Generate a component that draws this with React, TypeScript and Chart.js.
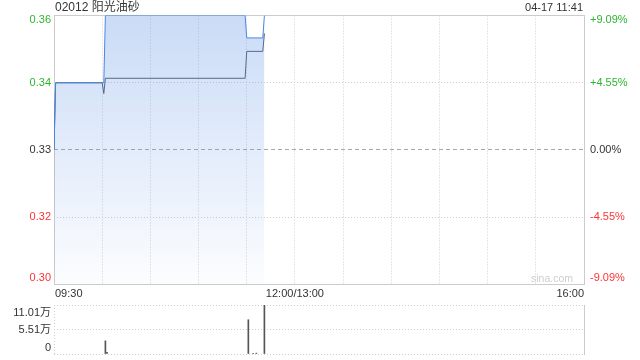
import { useEffect, useRef } from "react";
import { Chart, registerables } from "chart.js";

Chart.register(...registerables);

// ---- data ----
const stockTitle = "02012 阳光油砂";
const stampText = "04-17 11:41";
const prevClose = 0.33;

const priceTimes = ["09:30", "09:31", "10:01", "10:02", "11:29", "11:30", "11:40", "11:41"];
const priceValues = [0.33, 0.345, 0.345, 0.36, 0.36, 0.355, 0.355, 0.36];

const avgTimes = ["09:30", "09:31", "10:00", "10:01", "10:02", "11:29", "11:30", "11:40", "11:41"];
const avgValues = [0.33, 0.345, 0.345, 0.3426, 0.346, 0.346, 0.352, 0.352, 0.356];

const volTimes = ["10:02", "10:03", "11:31", "11:34", "11:36", "11:41"];
const volValues = [29500, 4000, 77000, 1000, 2000, 110100];

const priceTicks = [0.30, 0.315, 0.33, 0.345, 0.36];
const priceTickLabels = ["0.30", "0.32", "0.33", "0.34", "0.36"];
const pctTickLabels = ["-9.09%", "-4.55%", "0.00%", "+4.55%", "+9.09%"];

const volTicks = [0, 55050, 110100];
const volTickLabels = ["0", "5.51万", "11.01万"];

const xTickTimes = ["09:30", "12:00", "16:00"];
const xTickLabels = ["09:30", "12:00/13:00", "16:00"];

// trading day: 09:30-12:00 and 13:00-16:00 on one continuous minute axis
const SESSION_MINUTES = 330;
const toMinute = (t: string) => {
  const [h, m] = t.split(":").map(Number);
  const v = h * 60 + m;
  return v <= 720 ? v - 570 : v - 780 + 150;
};

const FONT = '"Liberation Sans", Arial, "Noto Sans CJK SC", sans-serif';
const GRID = "#cfcfcf";
const FRAME = "#cccccc";
const UP = "#2db52d";
const DOWN = "#ff3333";
const TEXT = "#333333";

const priceColor = (v: number) => (v > prevClose + 1e-9 ? UP : v < prevClose - 1e-9 ? DOWN : TEXT);
const crisp = (v: number) => Math.floor(v) + 0.5;

const mainDecor = {
  id: "mainDecor",
  beforeDatasetsDraw(chart: any) {
    const { ctx, chartArea: a, scales } = chart;
    const ys = scales.y;
    ctx.save();
    // previous close reference line
    const pc = crisp(ys.getPixelForValue(prevClose));
    ctx.strokeStyle = "#a8a8a8";
    ctx.lineWidth = 1;
    ctx.setLineDash([4, 3]);
    ctx.beginPath();
    ctx.moveTo(a.left, pc);
    ctx.lineTo(a.right, pc);
    ctx.stroke();
    ctx.setLineDash([]);
    // frame
    ctx.strokeStyle = FRAME;
    const l = crisp(a.left);
    const t = crisp(a.top);
    ctx.strokeRect(l, t, crisp(a.right) - l, crisp(a.bottom) - t);
    ctx.restore();
  },
  afterDraw(chart: any) {
    const { ctx, chartArea: a, scales } = chart;
    const ys = scales.y;
    const xs = scales.x;
    ctx.save();
    // price / percent labels
    ctx.font = `11px ${FONT}`;
    ctx.textBaseline = "middle";
    priceTicks.forEach((v, i) => {
      const py = ys.getPixelForValue(v);
      const ly = Math.min(Math.max(py, a.top + 4.5), a.bottom - 6.5);
      ctx.fillStyle = priceColor(v);
      ctx.textAlign = "right";
      ctx.fillText(priceTickLabels[i], a.left - 3, ly);
      ctx.textAlign = "left";
      ctx.fillText(pctTickLabels[i], a.right + 6, ly);
    });

    // time labels
    ctx.fillStyle = TEXT;
    xTickTimes.forEach((tm, i) => {
      const px = xs.getPixelForValue(toMinute(tm));
      ctx.textAlign = i === 0 ? "left" : i === xTickTimes.length - 1 ? "right" : "center";
      ctx.fillText(xTickLabels[i], px + (i === 0 ? 1 : 0), a.bottom + 9);
    });

    // header
    ctx.font = `12px ${FONT}`;
    ctx.textAlign = "left";
    ctx.fillText(stockTitle, a.left + 1, 8);
    ctx.font = `11px ${FONT}`;
    ctx.textAlign = "right";
    ctx.fillText(stampText, a.right - 1, 8);

    // watermark
    ctx.fillStyle = "#cdcdcd";
    ctx.font = `10.5px ${FONT}`;
    ctx.fillText("sina.com", a.right - 11, a.bottom - 5);
    ctx.restore();
  },
};

const volDecor = {
  id: "volDecor",
  afterDraw(chart: any) {
    const { ctx, chartArea: a, scales } = chart;
    const ys = scales.y;
    ctx.save();
    ctx.strokeStyle = FRAME;
    ctx.lineWidth = 1;
    ctx.beginPath();
    ctx.moveTo(a.right + 0.5, a.top);
    ctx.lineTo(a.right + 0.5, a.bottom + 1);
    ctx.stroke();
    ctx.font = `11px ${FONT}`;
    ctx.textBaseline = "middle";
    ctx.textAlign = "right";
    ctx.fillStyle = TEXT;
    volTicks.forEach((v, i) => {
      const py = ys.getPixelForValue(v);
      const ly = Math.min(Math.max(py, a.top + 7.7), a.bottom - 6.3);
      ctx.fillText(volTickLabels[i], a.left - 3, ly);
    });
    ctx.restore();
  },
};

const edgeTransparent = (edges: number[]) => (c: any) =>
  c.tick && edges.some((e) => Math.abs(c.tick.value - e) < 1e-9) ? "rgba(0,0,0,0)" : GRID;

export default function App() {
  const mainRef = useRef<HTMLCanvasElement>(null);
  const volRef = useRef<HTMLCanvasElement>(null);

  useEffect(() => {
    if (!mainRef.current || !volRef.current) return;

    const main = new Chart(mainRef.current, {
      type: "line",
      data: {
        datasets: [
          {
            label: "价格",
            data: priceTimes.map((t, i) => ({ x: toMinute(t), y: priceValues[i] })),
            borderColor: "#4a86e4",
            borderWidth: 1,
            pointRadius: 0,
            tension: 0,
            fill: "start",
            order: 0,
            backgroundColor: (c: any) => {
              const area = c.chart.chartArea;
              if (!area) return "rgba(100,150,230,0.2)";
              const g = c.chart.ctx.createLinearGradient(0, area.top, 0, area.bottom);
              g.addColorStop(0, "rgba(100,150,230,0.34)");
              g.addColorStop(1, "rgba(100,150,230,0.02)");
              return g;
            },
          },
          {
            label: "均价",
            data: avgTimes.map((t, i) => ({ x: toMinute(t), y: avgValues[i] })),
            borderColor: "#4f5866",
            borderWidth: 1,
            pointRadius: 0,
            tension: 0,
            fill: false,
            order: 1,
          },
        ],
      },
      options: {
        responsive: false,
        animation: false,
        layout: { padding: { left: 54, right: 56, top: 15.5, bottom: 15.5 } },
        plugins: { legend: { display: false }, tooltip: { enabled: false } },
        events: [],
        scales: {
          x: {
            type: "linear",
            min: 0,
            max: SESSION_MINUTES,
            ticks: { display: false, stepSize: 30 },
            afterFit: (s: any) => {
              s.height = 0;
            },
            grid: { color: edgeTransparent([0, SESSION_MINUTES]), drawTicks: false, lineWidth: 1 },
            border: { display: false, dash: [1, 2] },
          },
          y: {
            type: "linear",
            min: priceTicks[0],
            max: priceTicks[priceTicks.length - 1],
            afterBuildTicks: (s: any) => {
              s.ticks = priceTicks.map((v) => ({ value: v }));
            },
            ticks: { display: false },
            afterFit: (s: any) => {
              s.width = 0;
            },
            grid: {
              color: edgeTransparent([priceTicks[0], prevClose, priceTicks[priceTicks.length - 1]]),
              drawTicks: false,
              lineWidth: 1,
            },
            border: { display: false, dash: [1, 2] },
          },
        },
      },
      plugins: [mainDecor],
    });

    const vol = new Chart(volRef.current, {
      type: "bar",
      data: {
        datasets: [
          {
            label: "成交量",
            data: volTimes.map((t, i) => ({ x: toMinute(t), y: volValues[i] })),
            backgroundColor: "#555555",
            barThickness: 1,
          },
        ],
      },
      options: {
        responsive: false,
        animation: false,
        layout: { padding: { left: 54, right: 56, top: 5, bottom: 6 } },
        plugins: { legend: { display: false }, tooltip: { enabled: false } },
        events: [],
        scales: {
          x: {
            type: "linear",
            min: 0,
            max: SESSION_MINUTES,
            offset: false,
            afterBuildTicks: (s: any) => {
              s.ticks = [{ value: 0 }, { value: SESSION_MINUTES }];
            },
            ticks: { display: false },
            afterFit: (s: any) => {
              s.height = 0;
            },
            grid: { color: edgeTransparent([SESSION_MINUTES]), drawTicks: false, lineWidth: 1, offset: false },
            border: { display: false, dash: [1, 2] },
          },
          y: {
            type: "linear",
            min: volTicks[0],
            max: volTicks[volTicks.length - 1],
            afterBuildTicks: (s: any) => {
              s.ticks = volTicks.map((v) => ({ value: v }));
            },
            ticks: { display: false },
            afterFit: (s: any) => {
              s.width = 0;
            },
            grid: { color: GRID, drawTicks: false, lineWidth: 1 },
            border: { display: false, dash: [1, 2] },
          },
        },
      },
      plugins: [volDecor],
    });

    return () => {
      main.destroy();
      vol.destroy();
    };
  }, []);

  return (
    <div style={{ position: "fixed", left: 0, top: 0, width: 640, height: 360, background: "#fff" }}>
      <canvas ref={mainRef} width={640} height={300} style={{ position: "absolute", left: 0, top: 0 }} />
      <canvas ref={volRef} width={640} height={60} style={{ position: "absolute", left: 0, top: 300 }} />
    </div>
  );
}
